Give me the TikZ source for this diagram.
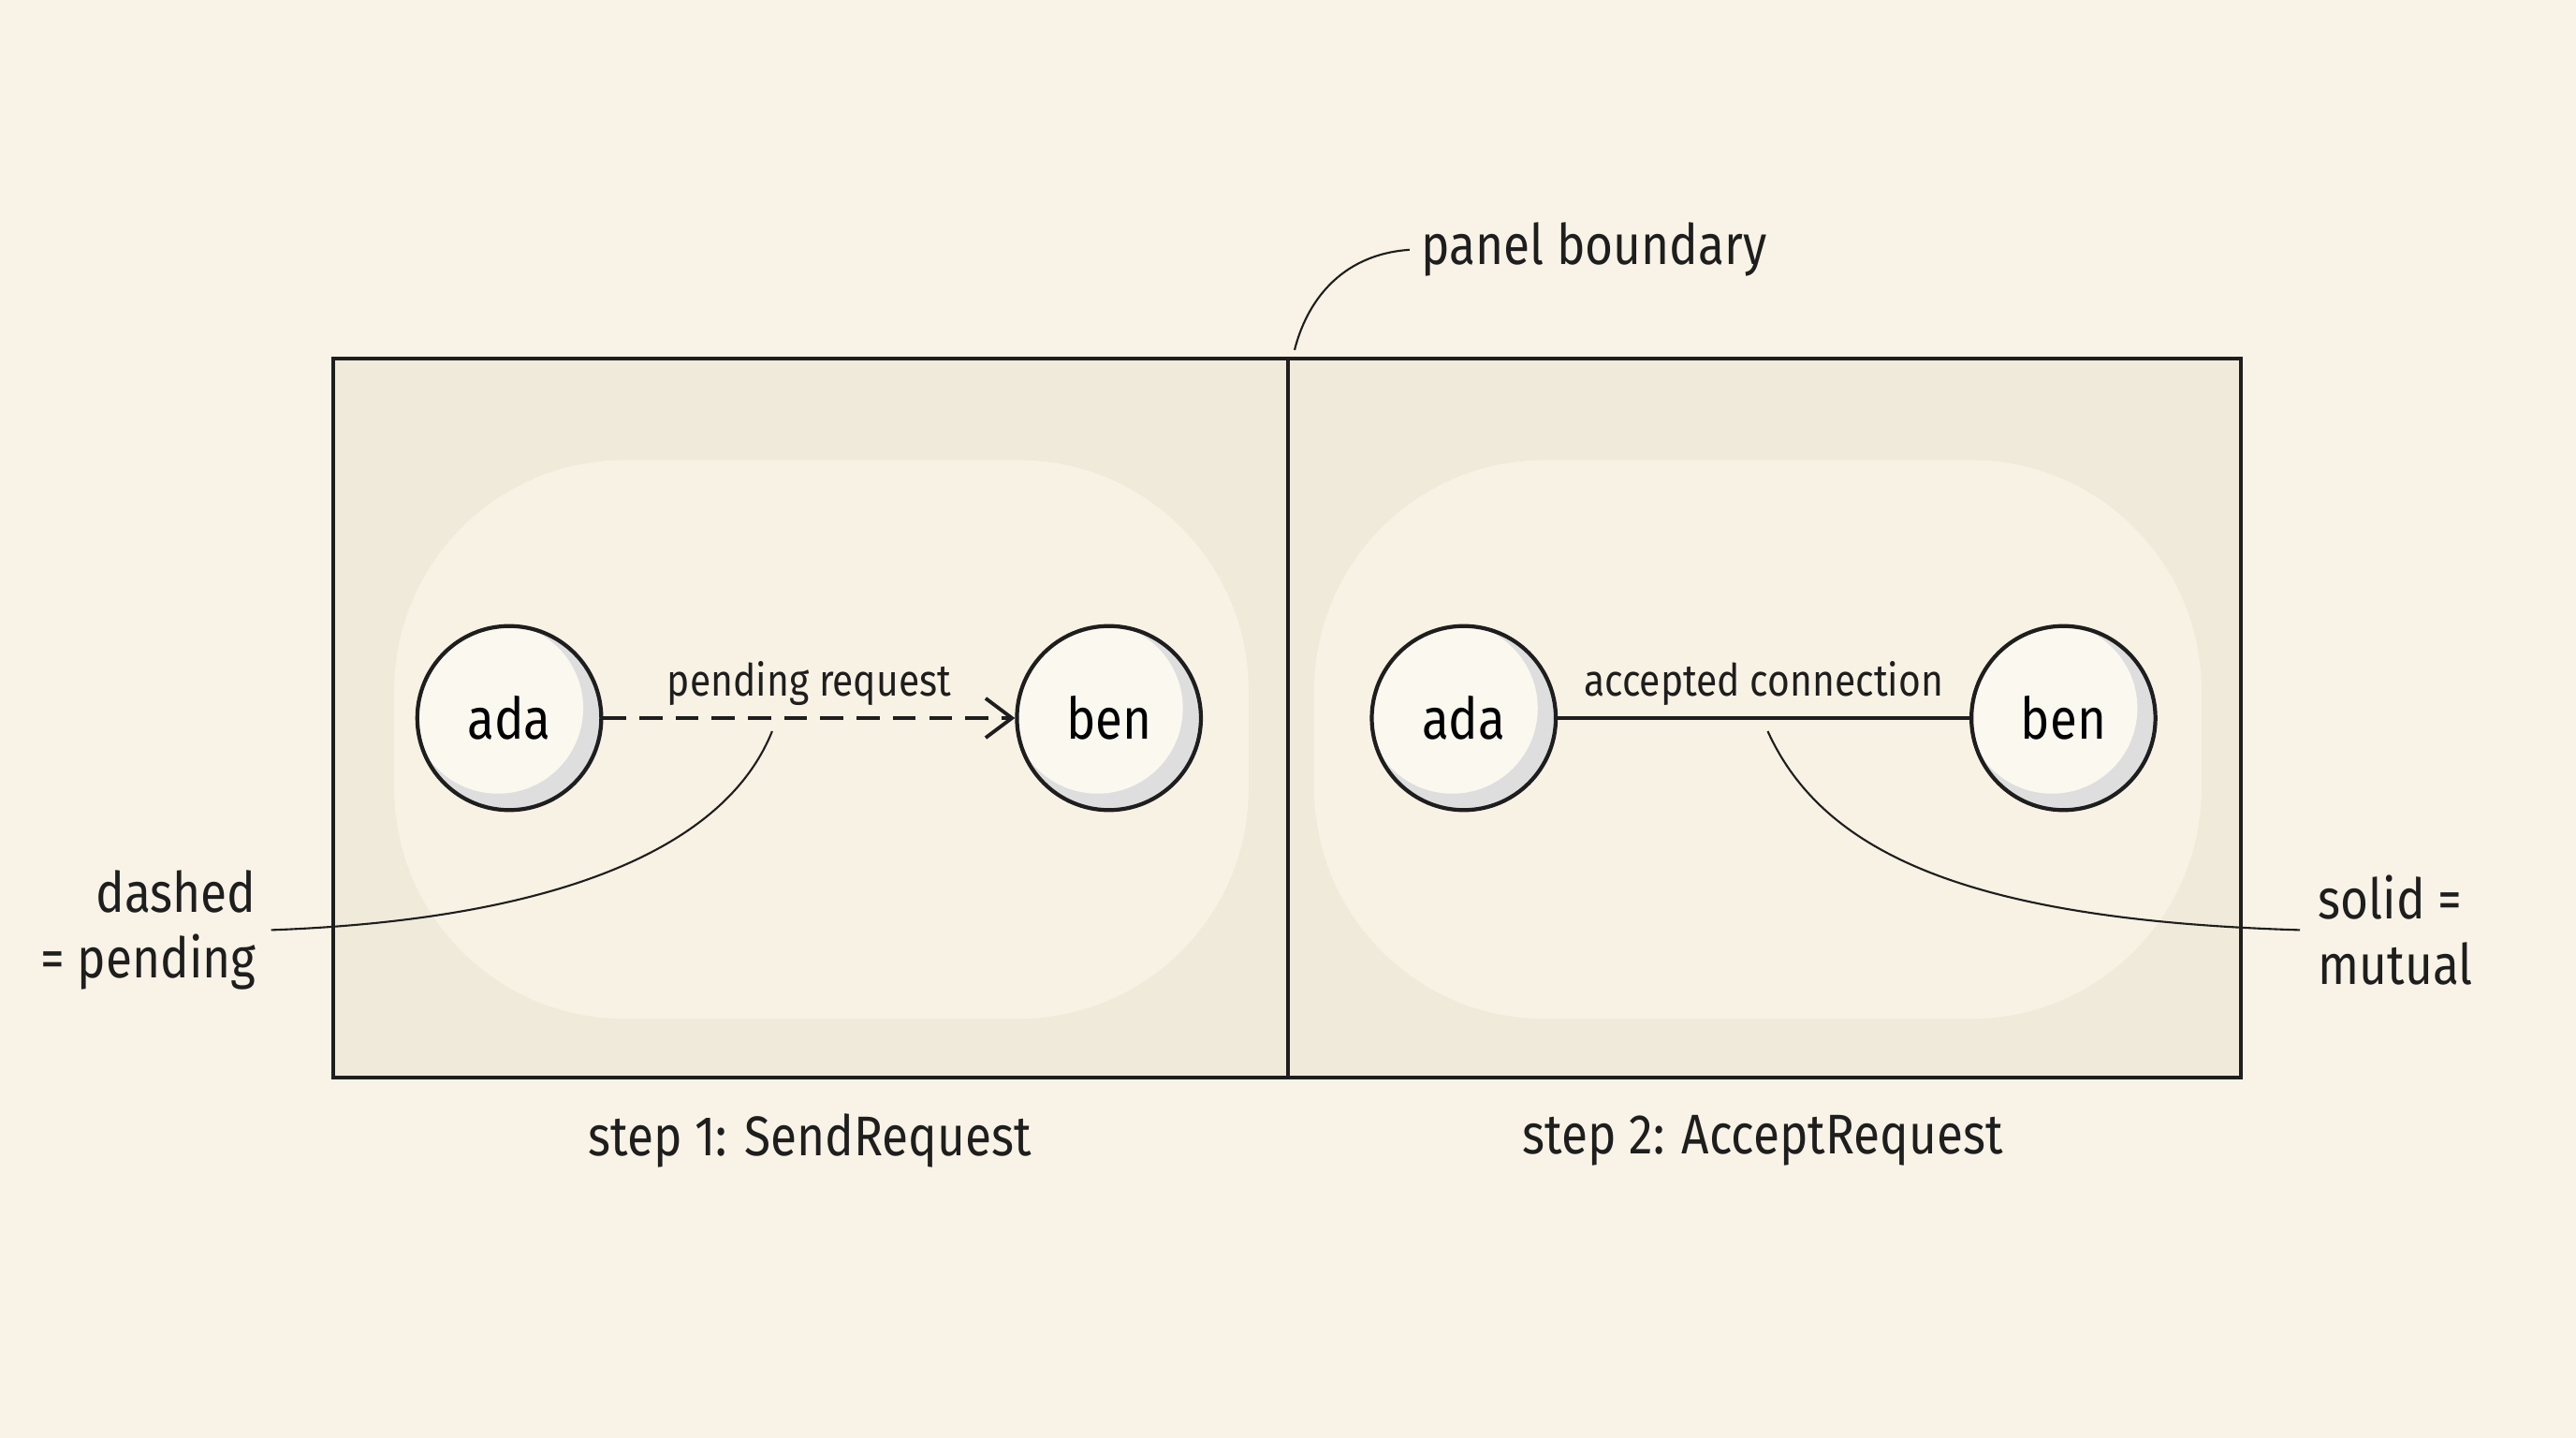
\documentclass[tikz,border=0pt]{standalone}
\usepackage{fontspec}
\setmainfont{Fira Sans}[FakeStretch=0.86]
\usetikzlibrary{arrows.meta}
\definecolor{paper}{HTML}{F8F3E6}
\definecolor{wash}{HTML}{F0EADB}
\definecolor{ink}{HTML}{1E1E1E}
\begin{document}
\begin{tikzpicture}[x=0.01755cm,y=-0.01755cm,
  nodec/.style={circle,draw=ink,line width=1.2pt,minimum size=112*0.01755cm,inner sep=0pt,font=\fontsize{17.5}{20}\selectfont},
  lbl/.style={font=\fontsize{17}{20}\selectfont,text=ink},
  elbl/.style={font=\fontsize{13.5}{15}\selectfont,text=ink},
  lead/.style={draw=ink,line width=0.6pt}]
\useasboundingbox (0,0) rectangle (1568,875);
\fill[paper] (0,0) rectangle (1568,875);
\fill[wash] (203,218) rectangle (1364,656);
\fill[paper!85!wash, rounded corners=70pt] (240,280) rectangle (760,620);
\fill[paper!85!wash, rounded corners=70pt] (800,280) rectangle (1340,620);
\draw[ink,line width=1.1pt] (203,218) rectangle (1364,656);
\draw[ink,line width=1.1pt] (784,218) -- (784,656);
\coordinate (pb) at (788,213);
\foreach \n/\x/\t in {a1/310/ada,b1/675/ben,a2/891/ada,b2/1256/ben}{
  \begin{scope}
    \clip (\x,437) circle (56);
    \fill[black!13] (\x,437) circle (56);
    \fill[paper!60!white] (\x-7,431) circle (52);
  \end{scope}
  \node[nodec] (\n) at (\x,437) {\t};
}
\draw[ink,line width=1.1pt,dash pattern=on 7pt off 4pt,-{Straight Barb[length=8pt,width=12pt]}] (a1) -- node[elbl,above=0pt]{pending request} (b1);
\draw[ink,line width=1.1pt] (a2) -- node[elbl,above=0pt]{accepted connection} (b2);
\node[lbl,align=right,anchor=east] (dp) at (163,566) {dashed\\= pending};
\node[lbl,align=left,anchor=west] (sm) at (1404,566) {solid =\\mutual};
\node[lbl,anchor=west] (pbl) at (858,152) {panel boundary};
\coordinate (d1) at (470,445);
\coordinate (d2) at (1076,445);
\draw[lead] (dp.east) ++(2,0) coordinate (dpe) .. controls (330,560) and (440,520) .. (d1);
\draw[lead] (sm.west) ++(-4,0) coordinate (sme) .. controls (1200,560) and (1110,520) .. (d2);
\draw[lead] (pbl.west) .. controls (815,155) and (795,185) .. (pb);
\node[lbl] (c1) at (493,694) {step 1: SendRequest};
\node[lbl] (c2) at (1073,694) {step 2: AcceptRequest};
\end{tikzpicture}
\end{document}
